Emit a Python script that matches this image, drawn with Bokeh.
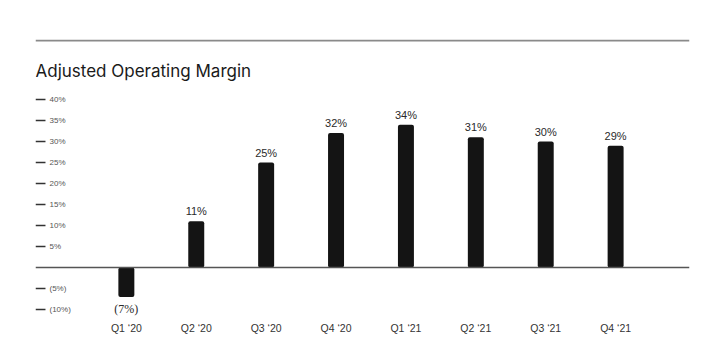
from bokeh.plotting import figure
from bokeh.models import Range1d, Span, FixedTicker, ColumnDataSource
from bokeh.core.properties import value
from bokeh.embed import file_html
from bokeh.resources import INLINE

categories = ["Q1 \u201820", "Q2 \u201820", "Q3 \u201820", "Q4 \u201820",
              "Q1 \u201821", "Q2 \u201821", "Q3 \u201821", "Q4 \u201821"]
margins = [-7, 11, 25, 32, 34, 31, 30, 29]
ytick_values = [40, 35, 30, 25, 20, 15, 10, 5, -5, -10]
ytick_labels = ["40%", "35%", "30%", "25%", "20%", "15%", "10%", "5%", "(5%)", "(10%)"]
title_text = "Adjusted Operating Margin"

FONT = "Inter"
LFONT = "Liberation Sans"
xs = list(range(len(categories)))
px_x = 70.0   # pixels per category unit
px_y = 4.2    # pixels per percent
x0 = -91.0 / px_x
x1 = 7 + 74.0 / px_x
y_top = 228.0 / px_y
y_bot = -48.0 / px_y

p = figure(width=711, height=357, output_backend="svg", toolbar_location=None,
           x_range=Range1d(x0, x1), y_range=Range1d(y_bot, y_top),
           min_border_left=35, min_border_right=22, min_border_top=39, min_border_bottom=42)
p.outline_line_color = None
p.background_fill_color = "white"
p.border_fill_color = "white"
p.grid.visible = False
p.yaxis.visible = False

ax = p.xaxis[0]
ax.ticker = FixedTicker(ticks=xs)
ax.major_label_overrides = {i: c for i, c in enumerate(categories)}
ax.axis_line_color = None
ax.major_tick_line_color = None
ax.minor_tick_line_color = None
ax.major_tick_out = 0
ax.major_label_standoff = 6
ax.major_label_text_font = LFONT
ax.major_label_text_font_size = "10.5px"
ax.major_label_text_color = "#333333"

# top rule
p.add_layout(Span(location=(267 - 40) / px_y, dimension="width",
                  line_color="#8a8a8a", line_width=2))
# baseline
p.add_layout(Span(location=0, dimension="width", line_color="#555555", line_width=1.5))

# title
p.text(x=[x0], y=[(267 - 70) / px_y], text=[title_text], text_font=value(FONT),
       text_font_size="17px", text_color="#1a1a1a", text_baseline="middle", text_align="left")

# y ticks (dash + label to the right)
p.segment(x0=[x0] * len(ytick_values), x1=[x0 + 10 / px_x] * len(ytick_values),
          y0=ytick_values, y1=ytick_values, line_color="#333333", line_width=1.5)
p.text(x=[x0 + 14 / px_x] * len(ytick_values), y=ytick_values, text=ytick_labels,
       text_font=value(LFONT), text_font_size="8px", text_color="#555555",
       text_baseline="middle", text_align="left")

# bars
src = ColumnDataSource(dict(x=xs, top=margins))
p.vbar(x="x", top="top", bottom=0, width=16 / px_x, source=src,
       fill_color="#141414", line_color=None, border_radius=2)

# value labels
pos = [(x, m) for x, m in zip(xs, margins) if m >= 0]
neg = [(x, m) for x, m in zip(xs, margins) if m < 0]
p.text(x=[a for a, _ in pos], y=[b for _, b in pos], text=[f"{b}%" for _, b in pos],
       text_font=value(LFONT), text_font_size="11px", text_color="#2a2a2a",
       text_align="center", text_baseline="bottom", y_offset=-4)
p.text(x=[a for a, _ in neg], y=[b for _, b in neg], text=[f"({-b}%)" for _, b in neg],
       text_font=value("Liberation Serif"), text_font_size="12px", text_color="#2a2a2a",
       text_align="center", text_baseline="top", y_offset=5)

open("out.html", "w").write(file_html(p, INLINE))
